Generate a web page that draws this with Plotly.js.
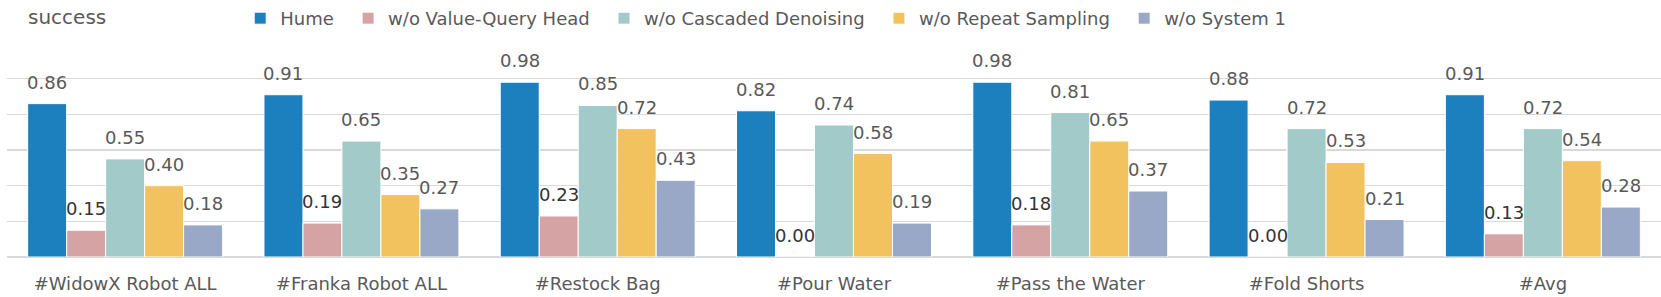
<!DOCTYPE html>
<html>
<head>
<meta charset="utf-8">
<script src="https://cdn.plot.ly/plotly-3.0.1.min.js"></script>
<style>html,body{margin:0;padding:0;background:#fff;}#chart{width:1661px;height:297px;}</style>
</head>
<body>
<div id="chart"></div>
<script>
const categories = ['#WidowX Robot ALL', '#Franka Robot ALL', '#Restock Bag', '#Pour Water', '#Pass the Water', '#Fold Shorts', '#Avg'];
const seriesNames = ['Hume', 'w/o Value-Query Head', 'w/o Cascaded Denoising', 'w/o Repeat Sampling', 'w/o System 1'];
const hume = [0.86, 0.91, 0.98, 0.82, 0.98, 0.88, 0.91];
const woValueQuery = [0.15, 0.19, 0.23, 0.00, 0.18, 0.00, 0.13];
const woCascaded = [0.55, 0.65, 0.85, 0.74, 0.81, 0.72, 0.72];
const woRepeat = [0.40, 0.35, 0.72, 0.58, 0.65, 0.53, 0.54];
const woSystem1 = [0.18, 0.27, 0.43, 0.19, 0.37, 0.21, 0.28];

const seriesValues = [hume, woValueQuery, woCascaded, woRepeat, woSystem1];
const colors = ['#1c80be', '#d6a3a5', '#a2cac9', '#f2c25e', '#98a8c6'];
const labelColors = ['#595959', '#333333', '#595959', '#595959', '#595959'];
const FONT = 'DejaVu Sans, sans-serif';
const bargap = 0.175;
const pad = '\u00a0\u2009';

const traces = seriesValues.map((vals, k) => ({
  type: 'bar',
  name: seriesNames[k] + (k < seriesNames.length - 1 ? pad : ''),
  x: categories,
  y: vals,
  marker: {color: colors[k], line: {color: '#ffffff', width: 1}},
  hoverinfo: 'skip'
}));

const n = seriesValues.length;
const w = (1 - bargap) / n;
const annotations = [];
seriesValues.forEach((vals, k) => {
  vals.forEach((v, i) => {
    annotations.push({
      xref: 'x', yref: 'y',
      x: i + (k - (n - 1) / 2) * w,
      y: v,
      text: v.toFixed(2),
      showarrow: false,
      xanchor: 'center', yanchor: 'bottom',
      yshift: 9,
      font: {family: FONT, size: 18, color: labelColors[k]}
    });
  });
});

const layout = {
  width: 1661, height: 297,
  margin: {l: 7, r: 0, t: 39, b: 40, pad: 0},
  paper_bgcolor: '#ffffff', plot_bgcolor: '#ffffff',
  barmode: 'group', bargap: bargap, bargroupgap: 0,
  title: {
    text: 'success', xref: 'container', yref: 'container',
    x: 28 / 1661, xanchor: 'left', y: 1 - 17 / 297, yanchor: 'middle',
    font: {family: FONT, size: 20, color: '#595959'}
  },
  showlegend: true,
  legend: {
    orientation: 'h', xref: 'paper', yref: 'paper',
    x: 0.141, xanchor: 'left', y: 1.115, yanchor: 'middle',
    font: {family: FONT, size: 18, color: '#595959'},
    bgcolor: 'rgba(0,0,0,0)', traceorder: 'normal'
  },
  xaxis: {
    type: 'category', showgrid: false, showline: false, zeroline: false,
    ticks: '', ticklabelstandoff: 14,
    tickfont: {family: FONT, size: 18, color: '#595959'},
    fixedrange: true
  },
  yaxis: {
    range: [0, 1.2], dtick: 0.2, tick0: 0,
    showticklabels: false, ticks: '',
    showgrid: true, gridcolor: '#d9d9d9', gridwidth: 1.5,
    zeroline: true, zerolinecolor: '#d9d9d9', zerolinewidth: 1.5,
    showline: false, fixedrange: true
  },
  annotations: annotations
};

Plotly.newPlot('chart', traces, layout, {displayModeBar: false, staticPlot: true});
</script>
</body>
</html>
